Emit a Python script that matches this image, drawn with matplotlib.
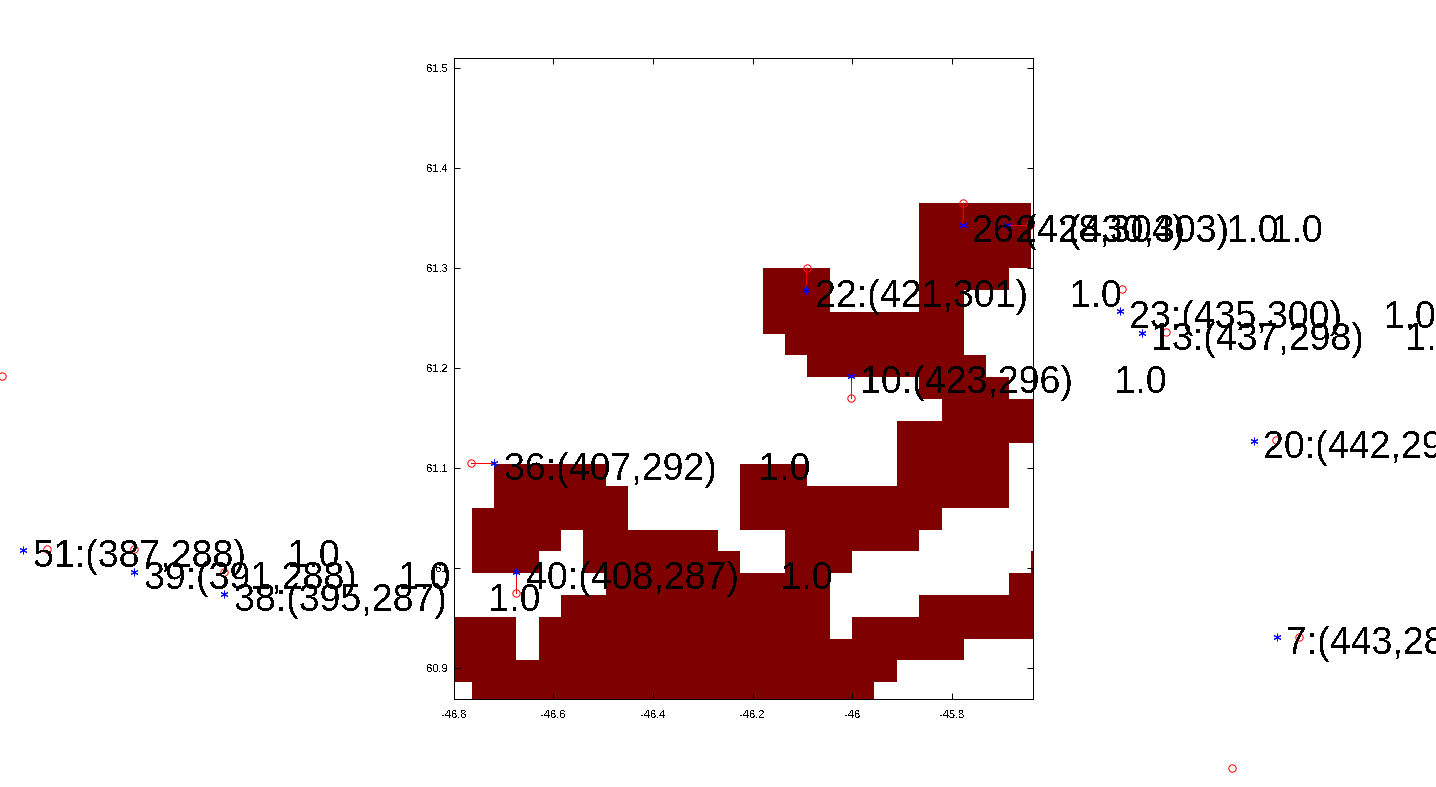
import numpy as np
import matplotlib
matplotlib.use("Agg")
import matplotlib.pyplot as plt

plt.rcParams['font.family'] = ['Liberation Sans', 'DejaVu Sans']
plt.rcParams['text.antialiased'] = False

# Mask grid: per row (top to bottom) the filled column runs
mask_runs = [
    [(21, 25)], [(21, 25)], [(21, 25)],
    [(14, 16), (21, 24)],
    [(14, 16), (21, 22)],
    [(14, 22)],
    [(15, 22)],
    [(16, 23)],
    [(21, 24)],
    [(22, 26)],
    [(20, 26)],
    [(20, 24)],
    [(2, 6), (13, 15), (20, 24)],
    [(2, 7), (13, 24)],
    [(1, 7), (13, 21)],
    [(1, 4), (6, 11), (15, 20)],
    [(1, 3), (6, 12), (15, 17), (26, 26)],
    [(7, 16), (25, 26)],
    [(5, 16), (21, 26)],
    [(0, 2), (4, 16), (18, 26)],
    [(0, 2), (4, 22)],
    [(0, 19)],
    [(1, 18)],
]
n_cols = 27
grid_extent = [-46.8102, -45.5968, 60.8640, 61.3643]

# Matched points
ids = [36, 40, 22, 10, 26, 24, 23, 13, 20, 7, 51, 39, 38]
img_x = [407, 408, 421, 423, 428, 430, 435, 437, 442, 443, 387, 391, 395]
img_y = [292, 287, 301, 296, 304, 303, 300, 298, 294, 285, 288, 288, 287]
scores = ["1.0"] * 13
blue_lon = [-46.7191, -46.6746, -46.0926, -46.0022, -45.7773, -45.689, -45.462,
            -45.4179, -45.193, -45.1468, -47.6649, -47.442, -47.2612]
blue_lat = [61.1053, 60.9963, 61.2783, 61.1923, 61.3433, 61.3433, 61.2573,
            61.2353, 61.1273, 60.9313, 61.0183, 60.9963, 60.9743]
red_lon = [-46.7653, -46.6746, -46.0906, -46.0022, -45.7763, -45.6428, -45.458,
           -45.3697, -45.1488, -45.1026, -47.6186, -47.442, -47.2612]
red_lat = [61.1053, 60.9753, 61.3003, 61.1703, 61.3653, 61.3433, 61.2793,
           61.2363, 61.1283, 60.9313, 61.0193, 61.0193, 60.9963]
# Circles whose partner falls off the figure
extra_lon = [-47.709, -45.2371]
extra_lat = [61.1923, 60.8003]

x_ticks = [-46.8, -46.6, -46.4, -46.2, -46.0, -45.8]
x_tick_labels = ["-46.8", "-46.6", "-46.4", "-46.2", "-46", "-45.8"]
y_ticks = [60.9, 61.0, 61.1, 61.2, 61.3, 61.4, 61.5]
y_tick_labels = ["60.9", "61", "61.1", "61.2", "61.3", "61.4", "61.5"]

W, H = 1436, 787
fig = plt.figure(figsize=(W / 100, H / 100), dpi=100, facecolor='white')
ax = fig.add_axes([453.7 / W, 1 - 699.3 / H, (1033.3 - 453.7) / W, (699.3 - 58.3) / H])

grid = np.full((len(mask_runs), n_cols), np.nan)
for r, runs in enumerate(mask_runs):
    for a, b in runs:
        grid[r, a:b + 1] = 1.0
ax.imshow(np.ma.masked_invalid(grid), cmap='jet', vmin=0, vmax=1, extent=grid_extent,
          origin='upper', aspect='auto', interpolation='nearest', zorder=1)

ax.set_xlim(-46.8005, -45.636)
ax.set_ylim(60.869, 61.51)

# Connector lines are clipped to the axes, markers are not
for i in range(len(ids)):
    ax.plot([blue_lon[i], red_lon[i]], [blue_lat[i], red_lat[i]], color='#ff0000', lw=0.72,
            clip_on=True, zorder=2)
ax.plot(red_lon + extra_lon, red_lat + extra_lat, ls='none', marker='o', ms=5.3, mfc='none',
        mec='#ff0000', mew=0.72, clip_on=False, antialiased=False, zorder=3)
ax.plot(blue_lon, blue_lat, ls='none', marker=(6, 2, 0), ms=5.5, mec='#0000ff', mew=0.72,
        clip_on=False, antialiased=False, zorder=4)

for i in range(len(ids)):
    label = f"{ids[i]}:({img_x[i]},{img_y[i]})    {scores[i]}"
    ax.annotate(label, (blue_lon[i], blue_lat[i]), xytext=(6.8, -11.9),
                textcoords='offset points', fontsize=27, color='black',
                ha='left', va='baseline', annotation_clip=False, clip_on=False, zorder=5)

ax.set_xticks(x_ticks, x_tick_labels)
ax.set_yticks(y_ticks, y_tick_labels)
ax.tick_params(direction='in', length=4.3, width=0.72, top=True, right=True,
               labelsize=8, zorder=6)
ax.tick_params(axis='x', pad=8)
ax.tick_params(axis='y', pad=4)
ax.set_axisbelow(False)
for s in ax.spines.values():
    s.set_linewidth(0.72)
    s.set_zorder(6)

fig.savefig("out.png", dpi=100)
